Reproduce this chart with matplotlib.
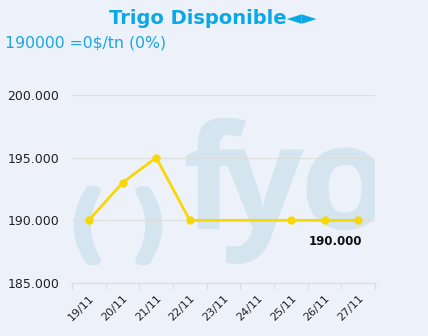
import matplotlib
matplotlib.use("Agg")
import matplotlib.pyplot as plt
import matplotlib.patheffects as pe
from matplotlib.ticker import FuncFormatter

# data
dates = ["19/11", "20/11", "21/11", "22/11", "23/11", "24/11", "25/11", "26/11", "27/11"]
price_dates = ["19/11", "20/11", "21/11", "22/11", "25/11", "26/11", "27/11"]
prices = [190000, 193000, 195000, 190000, 190000, 190000, 190000]
last_label = "190.000"
title = "Trigo Disponible\u25c4\u25ba"
subtitle = "190000 =0$/tn (0%)"

bg = "#edf1fa"
line_col = "#f7d708"
wm_col = "#d4e5ef"

W, H = 428, 336
fig = plt.figure(figsize=(W / 100, H / 100), dpi=100, facecolor=bg)
ax = fig.add_axes([72 / W, 1 - 283 / H, (375 - 72) / W, (283 - 95) / H])
ax.set_facecolor(bg)

def px(x, y):
    return x / W, 1 - y / H

# watermark logo, clipped to the plot area
thick = [pe.withStroke(linewidth=7, foreground=wm_col)]
for ch, x in [("(", 87), (")", 149)]:
    ax.text(*px(x, 228), ch, transform=fig.transFigure, fontsize=56, color=wm_col,
            ha="center", va="center", zorder=0, clip_on=True, path_effects=thick)
for ch, x in [("f", 210), ("y", 262), ("o", 345)]:
    ax.text(*px(x, 229), ch, transform=fig.transFigure, fontsize=105, color=wm_col,
            family="Open Sans", fontweight="bold",
            ha="center", va="baseline", zorder=0, clip_on=True)

xpos = [dates.index(d) for d in price_dates]
ax.plot(xpos, prices, color=line_col, lw=2, marker="o", ms=5, zorder=3)
ax.text(xpos[-1] - 0.68, prices[-1] - 1150, last_label, fontsize=8.5, fontweight="bold",
        color="#111111", ha="center", va="top", zorder=4)

ax.set_xlim(-0.5, len(dates) - 0.5)
ax.set_ylim(185000, 200000)
ax.set_yticks([185000, 190000, 195000, 200000])
ax.yaxis.set_major_formatter(FuncFormatter(lambda v, p: f"{v / 1000:.3f}"))
ax.grid(axis="y", color="#dedede", lw=0.8, zorder=1)

ax.set_xticks([i - 0.5 for i in range(len(dates) + 1)], minor=False)
ax.set_xticklabels([])
ax.set_xticks(range(len(dates)), minor=True)
ax.set_xticklabels(dates, minor=True, rotation=45, ha="right", rotation_mode="anchor",
                   fontsize=8, color="#222222")
ax.tick_params(axis="x", which="major", length=4, color="#dcdcdc", width=0.8)
ax.tick_params(axis="x", which="minor", length=0, pad=7)
ax.tick_params(axis="y", length=0, labelsize=9, labelcolor="#222222", pad=9)

for s in ["top", "right", "left"]:
    ax.spines[s].set_visible(False)
ax.spines["bottom"].set_color("#dcdcdc")
ax.spines["bottom"].set_linewidth(0.8)

fig.text(*px(213, 19), title, fontsize=14, fontweight="bold", color="#0ba8e6",
         ha="center", va="center")
fig.text(*px(5, 43), subtitle, fontsize=11.3, color="#1aa7e0", ha="left", va="center")

fig.savefig("out.png", dpi=100, facecolor=bg)
